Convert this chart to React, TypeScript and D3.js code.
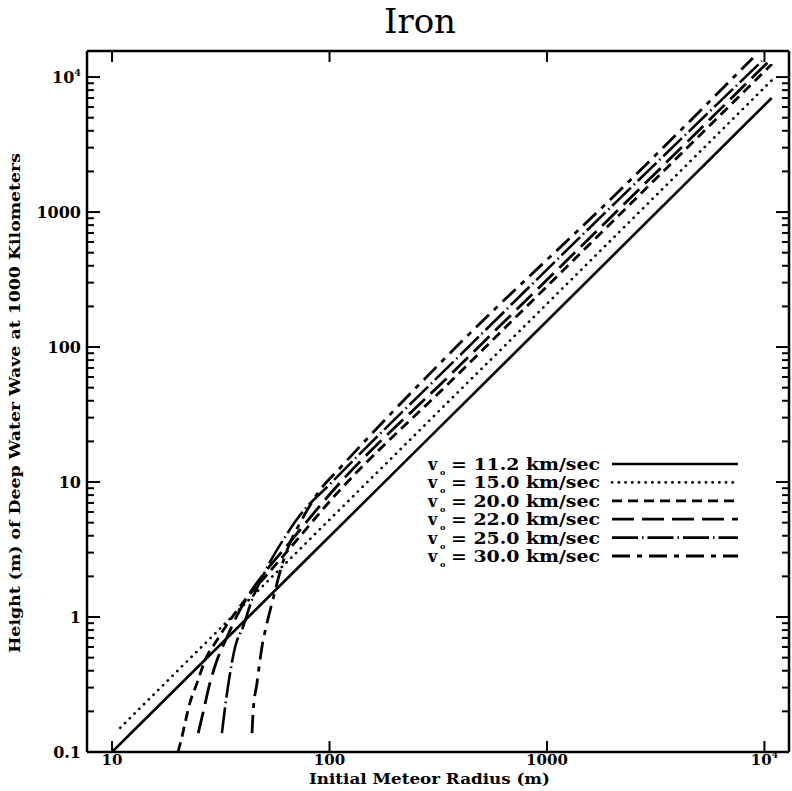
import React from "react";
import * as d3 from "d3";

const W = 792;
const H = 791;
const LEFT = 87;
const RIGHT = 789;
const TOP = 51;
const BOTTOM = 752;

const xDomain = [7.67, 12970];
const yDomain = [0.1, 15600];

const xMajor = [10, 100, 1000, 10000];
const xMajorLabels = [["10", ""], ["100", ""], ["1000", ""], ["10", "4"]];
const yMajor = [0.1, 1, 10, 100, 1000, 10000];
const yMajorLabels = [["0.1", ""], ["1", ""], ["10", ""], ["100", ""], ["1000", ""], ["10", "4"]];

// v0 = 11.2 km/sec
const r112 = [10, 100, 1000, 10800];
const h112 = [0.1, 3.95, 156, 7000];
// v0 = 15.0 km/sec
const r150 = [10.9, 100, 1000, 10900];
const h150 = [0.151, 5.26, 209, 9600];
// v0 = 20.0 km/sec
const r200 = [20.1, 20.8, 22.8, 24.6, 26.8, 30.4, 34.9, 40.9, 50.5, 65.8, 100.5, 370, 2100, 10830];
const h200 = [0.1, 0.123, 0.231, 0.325, 0.48, 0.675, 0.95, 1.34, 1.98, 3.24, 7.23, 57.9, 918, 12480];
// v0 = 22.0 km/sec
const r220 = [24.9, 26.2, 28.2, 30.4, 33.8, 37.6, 43.1, 50.5, 62.4, 100.5, 370, 2100, 10600];
const h220 = [0.138, 0.195, 0.325, 0.48, 0.711, 1.03, 1.51, 2.15, 3.24, 8.15, 65.3, 1017, 13360];
// v0 = 25.0 km/sec
const r250 = [32.0, 33.1, 34.9, 36.8, 40.0, 44.0, 47.9, 53.3, 62.4, 73.2, 100.5, 370, 2100, 9740];
const h250 = [0.138, 0.215, 0.385, 0.6, 0.843, 1.34, 1.82, 2.56, 3.91, 5.69, 9.66, 77.4, 1206, 13140];
// v0 = 30.0 km/sec
const r300 = [44.0, 44.5, 46.4, 48.9, 51.6, 54.4, 61.1, 65.8, 73.2, 90.4, 111.7, 370, 2100, 8850];
const h300 = [0.138, 0.195, 0.325, 0.6, 0.903, 1.27, 2.56, 3.53, 4.97, 8.72, 12.7, 95, 1383, 13830];

const legendLabels = ["11.2", "15.0", "20.0", "22.0", "25.0", "30.0"];

const seriesDefs = [
  { r: r112, h: h112, dash: "", width: 2.6, cap: "butt" },
  { r: r150, h: h150, dash: "0.3 6.4", width: 2.6, cap: "round" },
  { r: r200, h: h200, dash: "10 6", width: 2.8, cap: "butt" },
  { r: r220, h: h220, dash: "22 8", width: 2.8, cap: "butt" },
  { r: r250, h: h250, dash: "26 4 1.5 4", width: 2.6, cap: "butt" },
  { r: r300, h: h300, dash: "18 7 5 7", width: 2.8, cap: "butt" },
];

const SERIF = "'DejaVu Serif', 'Liberation Serif', serif";

function Label({ x, y, base, sup, anchor, size }: any) {
  return (
    <text x={x} y={y} textAnchor={anchor} fontFamily={SERIF} fontWeight="bold" fontSize={size} fill="#000">
      {base}
      {sup ? (
        <tspan dy={-7} fontSize={size * 0.6}>{sup}</tspan>
      ) : null}
    </text>
  );
}

export default function App() {
  const x = d3.scaleLog().domain(xDomain).range([LEFT, RIGHT]);
  const y = d3.scaleLog().domain(yDomain).range([BOTTOM, TOP]);
  const line = d3
    .line<[number, number]>()
    .x((d) => x(d[0]))
    .y((d) => y(d[1]))
    .curve(d3.curveMonotoneX);

  const yMinor: number[] = [];
  [0.1, 1, 10, 100, 1000, 10000].forEach((dec) => {
    for (let k = 2; k <= 9; k++) {
      const v = dec * k;
      if (v > yDomain[0] && v < yDomain[1]) yMinor.push(v);
    }
  });

  const legendY0 = 464;
  const legendDy = 18.4;

  return (
    <svg
      width={W}
      height={H}
      viewBox={`0 0 ${W} ${H}`}
      style={{ position: "absolute", left: 0, top: 0, background: "#fff" }}
    >
      <rect x={0} y={0} width={W} height={H} fill="#fff" />
      <defs>
        <clipPath id="plotClip">
          <rect x={LEFT} y={TOP} width={RIGHT - LEFT} height={BOTTOM - TOP} />
        </clipPath>
      </defs>

      {/* title */}
      <text x={420} y={33} textAnchor="middle" fontFamily={SERIF} fontSize={34} fill="#000">
        Iron
      </text>

      {/* frame */}
      <g stroke="#000" strokeWidth={2.5} fill="none">
        <line x1={LEFT} y1={TOP} x2={RIGHT} y2={TOP} />
        <line x1={LEFT} y1={BOTTOM} x2={RIGHT} y2={BOTTOM} />
        <line x1={LEFT} y1={TOP} x2={LEFT} y2={BOTTOM} />
        <line x1={RIGHT} y1={TOP} x2={RIGHT} y2={BOTTOM} />
      </g>

      {/* ticks */}
      <g stroke="#000" strokeWidth={2}>
        {yMajor.map((v) => (
          <g key={"ym" + v}>
            <line x1={LEFT} x2={LEFT + 13} y1={y(v)} y2={y(v)} />
            <line x1={RIGHT} x2={RIGHT - 13} y1={y(v)} y2={y(v)} />
          </g>
        ))}
        {yMinor.map((v) => (
          <g key={"yn" + v}>
            <line x1={LEFT} x2={LEFT + 7} y1={y(v)} y2={y(v)} />
            <line x1={RIGHT} x2={RIGHT - 7} y1={y(v)} y2={y(v)} />
          </g>
        ))}
        {xMajor.map((v) => (
          <g key={"xm" + v}>
            <line x1={x(v)} x2={x(v)} y1={BOTTOM} y2={BOTTOM - 11} />
            <line x1={x(v)} x2={x(v)} y1={TOP} y2={TOP + 11} />
          </g>
        ))}
      </g>

      {/* y tick labels */}
      {yMajor.map((v, i) => (
        <Label key={"yl" + v} x={81} y={y(v) + 6} base={yMajorLabels[i][0]} sup={yMajorLabels[i][1]} anchor="end" size={16} />
      ))}
      {/* x tick labels */}
      {xMajor.map((v, i) => (
        <Label key={"xl" + v} x={x(v)} y={765} base={xMajorLabels[i][0]} sup={xMajorLabels[i][1]} anchor="middle" size={15} />
      ))}

      {/* axis titles */}
      <text x={309} y={784} textLength={241} lengthAdjust="spacingAndGlyphs" fontFamily={SERIF} fontWeight="bold" fontSize={14} fill="#000">
        Initial Meteor Radius (m)
      </text>
      <text
        transform="translate(20,653) rotate(-90)"
        x={0}
        y={0}
        textLength={500}
        lengthAdjust="spacingAndGlyphs"
        fontFamily={SERIF}
        fontWeight="bold"
        fontSize={14}
        fill="#000"
      >
        Height (m) of Deep Water Wave at 1000 Kilometers
      </text>

      {/* curves */}
      <g clipPath="url(#plotClip)" fill="none" stroke="#000">
        {seriesDefs.map((s, i) => (
          <path
            key={"s" + i}
            d={line(s.r.map((r, j) => [r, s.h[j]] as [number, number])) || ""}
            strokeWidth={s.width}
            strokeDasharray={s.dash || undefined}
            strokeLinecap={s.cap as any}
          />
        ))}
      </g>

      {/* legend */}
      {seriesDefs.map((s, i) => {
        const ly = legendY0 + legendDy * i;
        return (
          <g key={"lg" + i}>
            <text x={428} y={ly + 6} fontFamily={SERIF} fontWeight="bold" fontSize={16} fill="#000">
              v
            </text>
            <text x={440} y={ly + 11} fontFamily={SERIF} fontWeight="bold" fontSize={8} fill="#000">
              o
            </text>
            <text
              x={451}
              y={ly + 6}
              textLength={149}
              lengthAdjust="spacingAndGlyphs"
              fontFamily={SERIF}
              fontWeight="bold"
              fontSize={16}
              fill="#000"
            >
              {`= ${legendLabels[i]} km/sec`}
            </text>
            <line
              x1={612}
              x2={738}
              y1={ly}
              y2={ly}
              stroke="#000"
              strokeWidth={s.width}
              strokeDasharray={s.dash || undefined}
              strokeLinecap={s.cap as any}
            />
          </g>
        );
      })}
    </svg>
  );
}
